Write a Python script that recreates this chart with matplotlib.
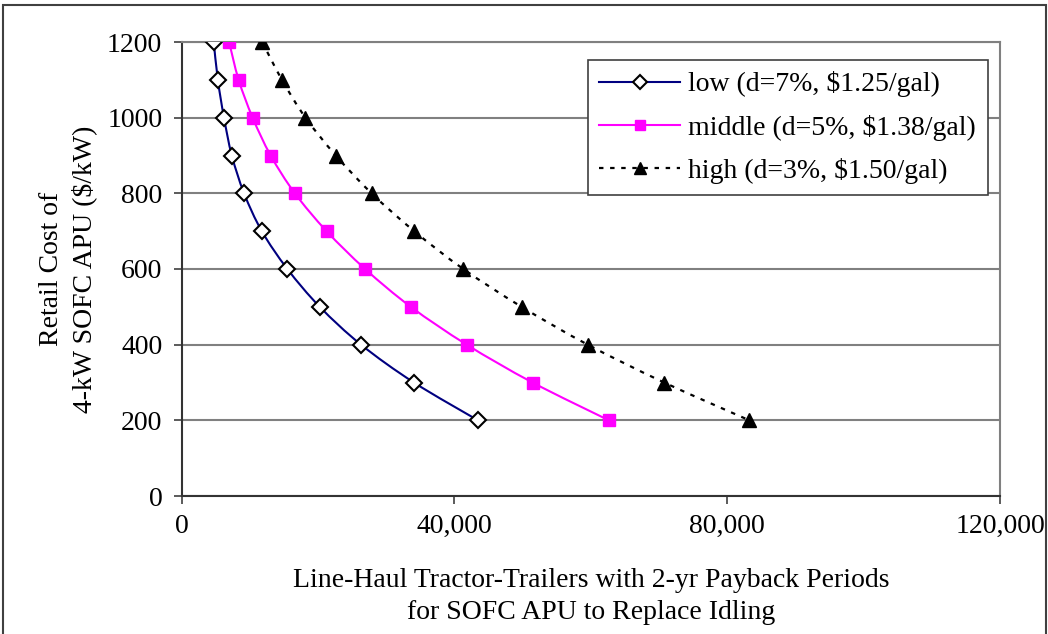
import matplotlib
matplotlib.use("Agg")
import matplotlib.pyplot as plt
from matplotlib.patches import Rectangle, PathPatch
from matplotlib.path import Path
from matplotlib.lines import Line2D
from matplotlib.ticker import FuncFormatter

# retail cost of the APU ($/kW), one value per point
cost = [1200, 1100, 1000, 900, 800, 700, 600, 500, 400, 300, 200]

# number of tractor-trailers
low_trucks = [4700, 5300, 6200, 7350, 9150, 11750, 15500, 20250, 26300, 34050, 43450]
middle_trucks = [6950, 8350, 10400, 13050, 16600, 21250, 26900, 33600, 41800, 51450, 62650]
high_trucks = [11800, 14700, 18150, 22600, 27850, 34100, 41300, 49850, 59550, 70750, 83250]

labels = ["low (d=7%, $1.25/gal)", "middle (d=5%, $1.38/gal)", "high (d=3%, $1.50/gal)"]
x_ticks = [0, 40000, 80000, 120000]
y_ticks = [0, 200, 400, 600, 800, 1000, 1200]

plt.rcParams['font.family'] = ['Liberation Serif', 'DejaVu Serif']
FS = 20


def smooth_path(xs, ys):
    # excel style smoothed line: cubic bezier through the points
    verts = [(xs[0], ys[0])]
    codes = [Path.MOVETO]
    n = len(xs)
    for i in range(n - 1):
        p0 = (xs[max(i - 1, 0)], ys[max(i - 1, 0)])
        p1 = (xs[i], ys[i])
        p2 = (xs[i + 1], ys[i + 1])
        p3 = (xs[min(i + 2, n - 1)], ys[min(i + 2, n - 1)])
        c1 = (p1[0] + (p2[0] - p0[0]) / 6, p1[1] + (p2[1] - p0[1]) / 6)
        c2 = (p2[0] - (p3[0] - p1[0]) / 6, p2[1] - (p3[1] - p1[1]) / 6)
        verts += [c1, c2, p2]
        codes += [Path.CURVE4] * 3
    return Path(verts, codes)


def draw_series(ax, xs, ys, line_kw, marker_kw):
    ax.add_patch(PathPatch(smooth_path(xs, ys), fill=False, zorder=2, **line_kw))
    ax.plot(xs, ys, ls="none", zorder=3, **marker_kw)


fig = plt.figure(figsize=(10.48, 6.34), dpi=100)
fig.patches.append(Rectangle((3 / 1048, -0.05), 1043 / 1048, 1.05 - 5 / 634,
                             transform=fig.transFigure, fill=False,
                             edgecolor="#404040", linewidth=1.5))

ax = fig.add_axes([181.7 / 1048, (634 - 496) / 634, 818.3 / 1048, 454 / 634])

low_line = dict(edgecolor="#000080", lw=1.5)
low_mark = dict(marker="D", ms=8.5, mfc="white", mec="black", mew=1.5)
mid_line = dict(edgecolor="#ff00ff", lw=1.5)
mid_mark = dict(marker="s", ms=8, mfc="#ff00ff", mec="#ff00ff")
high_line = dict(edgecolor="black", lw=1.6, ls=(0, (2, 3)))
high_mark = dict(marker="^", ms=10, mfc="black", mec="black")

draw_series(ax, low_trucks, cost, low_line, low_mark)
draw_series(ax, middle_trucks, cost, mid_line, mid_mark)
draw_series(ax, high_trucks, cost, high_line, high_mark)

ax.set_xlim(0, 120000)
ax.set_ylim(0, 1200)
ax.set_xticks(x_ticks)
ax.set_yticks(y_ticks)
ax.xaxis.set_major_formatter(FuncFormatter(lambda v, p: f"{int(v):,}"))
ax.tick_params(axis="both", direction="out", length=6, width=1.2, color="#404040",
               labelsize=FS)
ax.tick_params(axis="x", pad=7)
ax.tick_params(axis="y", pad=8)

ax.yaxis.grid(True, color="#808080", lw=1.5)
ax.set_axisbelow(True)
for s in ["left", "bottom"]:
    ax.spines[s].set_color("#333333")
    ax.spines[s].set_linewidth(1.5)
for s in ["right", "top"]:
    ax.spines[s].set_color("#808080")
    ax.spines[s].set_linewidth(1.5)

ax.set_xlabel("Line-Haul Tractor-Trailers with 2-yr Payback Periods\nfor SOFC APU to Replace Idling",
              fontsize=FS, labelpad=21, linespacing=1.35)
ax.set_ylabel("Retail Cost of\n4-kW SOFC APU ($/kW)", fontsize=FS, labelpad=7,
              linespacing=1.35)

handles = [
    Line2D([], [], color="#000080", lw=1.5, **low_mark),
    Line2D([], [], color="#ff00ff", lw=1.5, **mid_mark),
    Line2D([], [], color="black", lw=1.6, ls=(0, (2, 3)), **high_mark),
]
leg = ax.legend(handles, labels, loc="upper right", bbox_to_anchor=(0.985, 0.961),
                fontsize=FS, frameon=True, fancybox=False, framealpha=1,
                edgecolor="#404040", handlelength=2.9, borderpad=0.42,
                labelspacing=0.62, handletextpad=0.3, borderaxespad=0)
leg.get_frame().set_linewidth(1.2)
leg.legend_handles[0].set_markersize(7)
leg.legend_handles[1].set_markersize(7.5)
leg.legend_handles[2].set_markersize(9)

fig.savefig("out.png", dpi=100)
